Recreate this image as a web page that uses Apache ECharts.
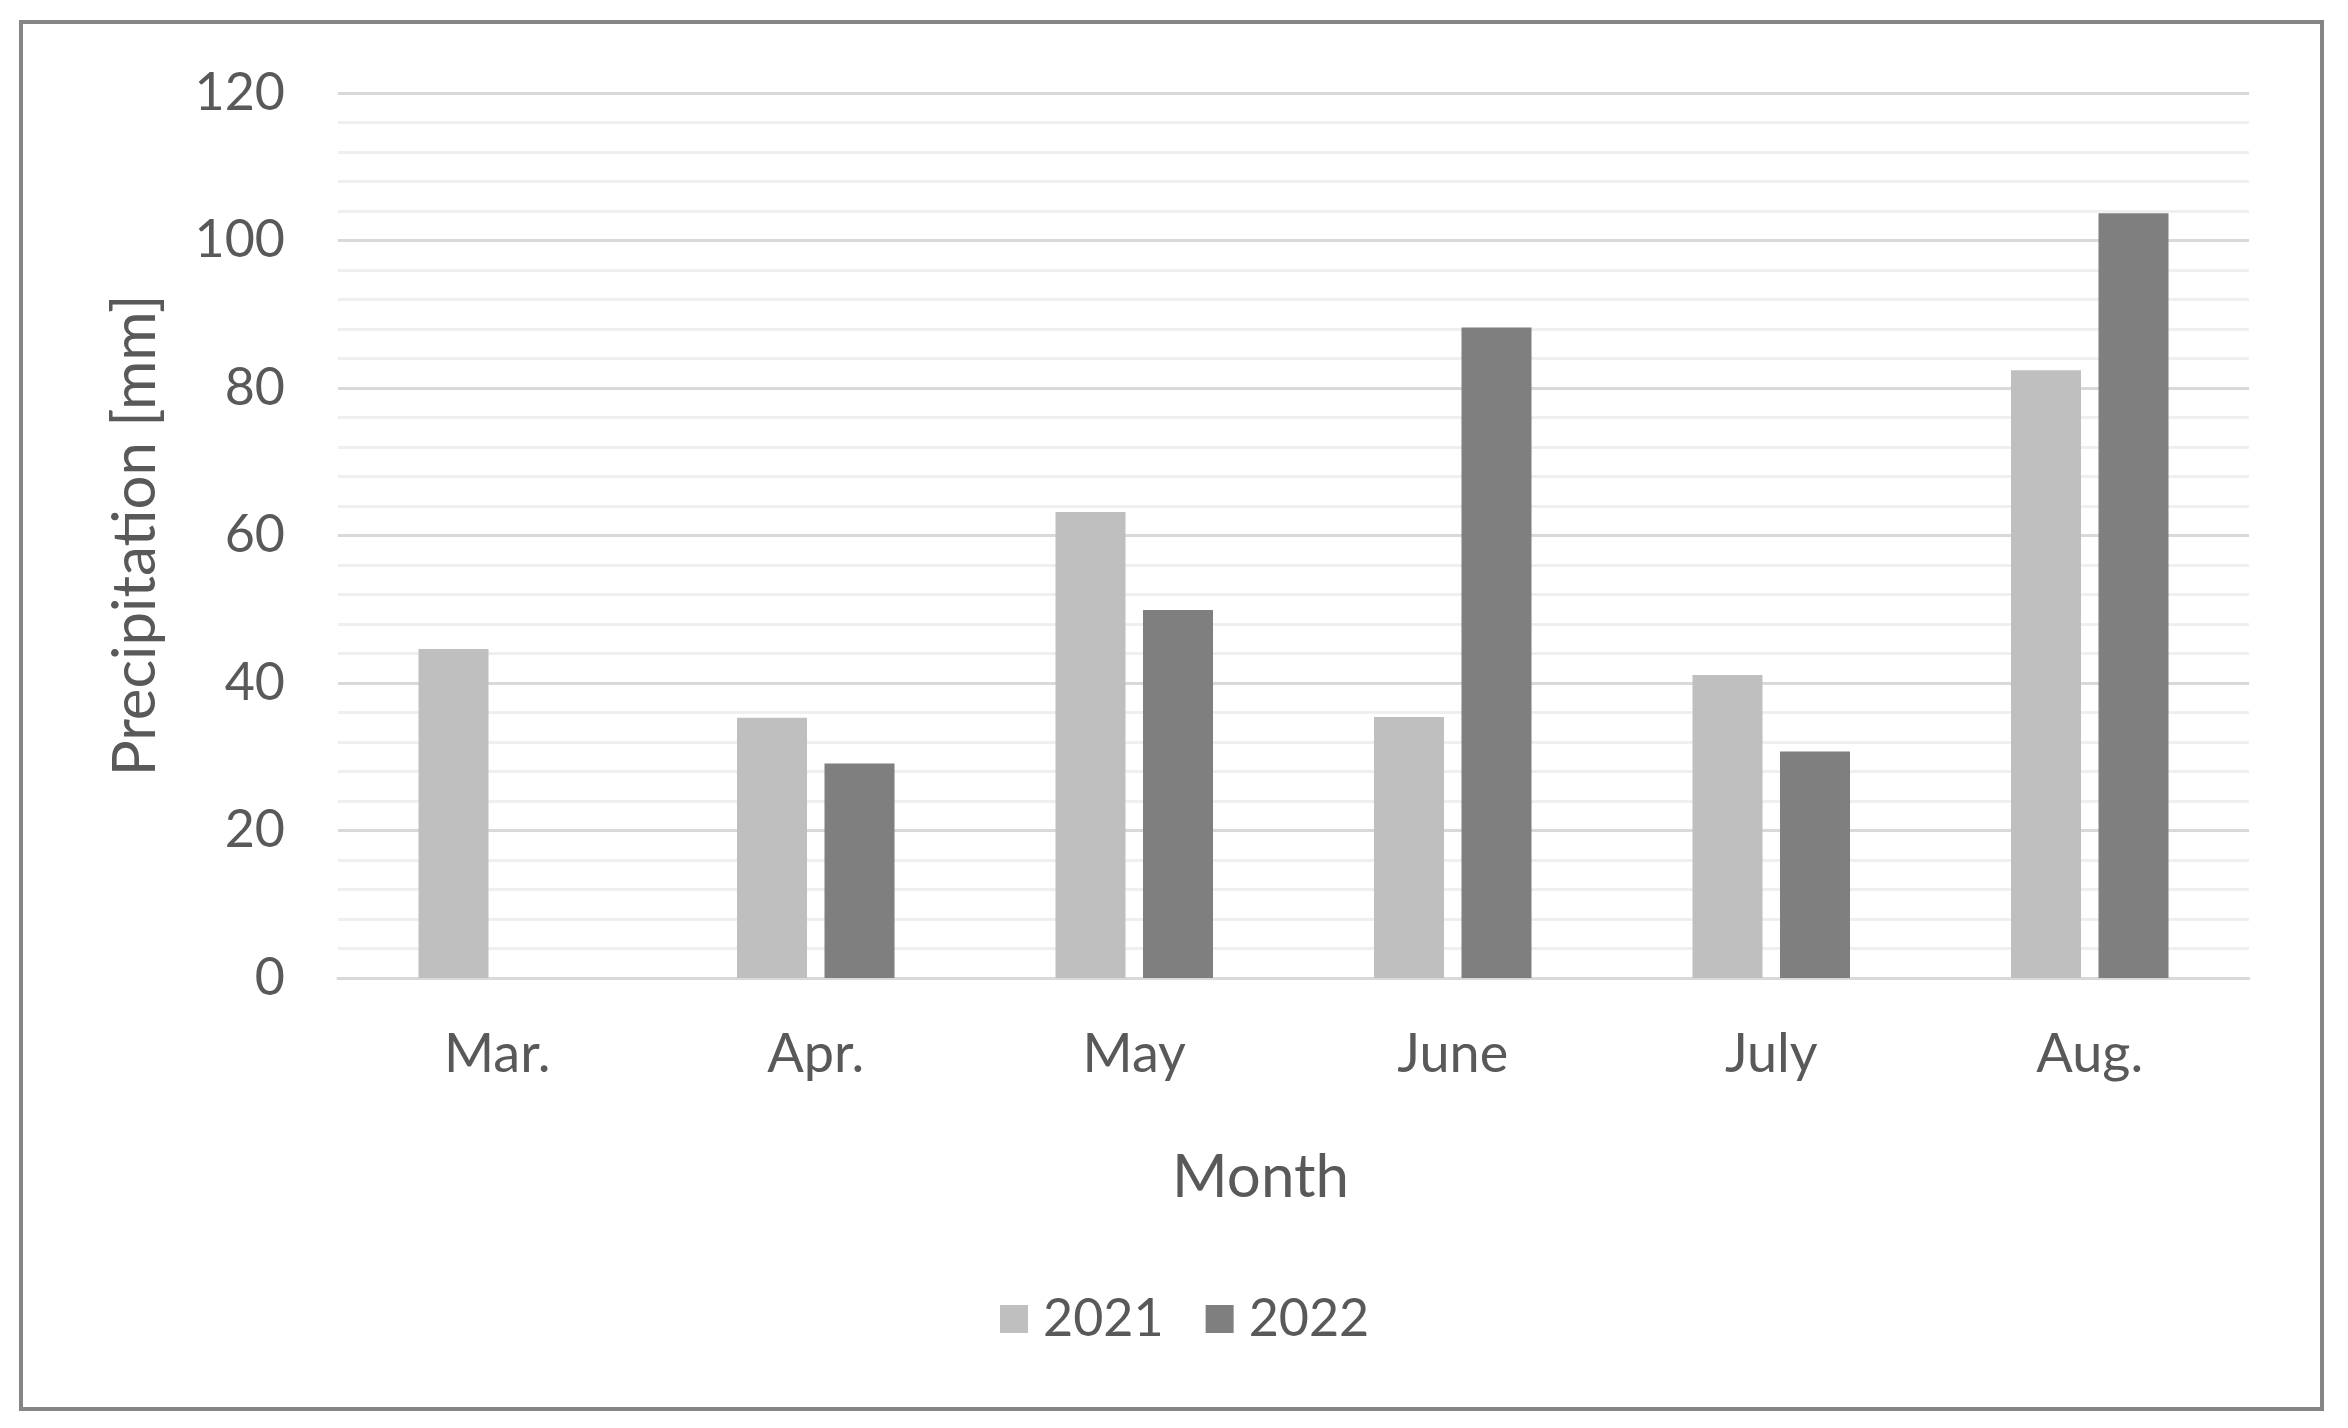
<!DOCTYPE html>
<html>
<head>
<meta charset="utf-8">
<script src="https://cdn.jsdelivr.net/npm/echarts@6/dist/echarts.min.js"></script>
<style>
html,body{margin:0;padding:0;background:#fff;}
#chart{width:2348px;height:1428px;}
</style>
</head>
<body>
<div id="chart"></div>
<script>
const months = ['Mar.', 'Apr.', 'May', 'June', 'July', 'Aug.'];
const precip2021 = [44.6, 35.3, 63.2, 35.4, 41.1, 82.4];
const precip2022 = [null, 29.1, 49.9, 88.2, 30.7, 103.7];
const seriesNames = ['2021', '2022'];
const yTicks = { min: 0, max: 120, step: 20 };

const FONT = 'Lato, "Open Sans", sans-serif';
const TXT = '#595959';

const chart = echarts.init(document.getElementById('chart'), null, { renderer: 'canvas' });
chart.setOption({
  backgroundColor: '#ffffff',
  animation: false,
  textStyle: { fontFamily: FONT, color: TXT },
  graphic: [{
    type: 'rect',
    shape: { x: 21, y: 22, width: 2301, height: 1387 },
    style: { fill: 'none', stroke: '#858585', lineWidth: 4 },
    silent: true
  }],
  grid: { left: 338, right: 99, top: 93, bottom: 450, containLabel: false },
  legend: {
    data: seriesNames,
    left: 995,
    top: 1288,
    itemWidth: 28,
    itemHeight: 28,
    itemGap: 42,
    icon: 'rect',
    textStyle: { fontFamily: FONT, fontSize: 52, color: TXT, padding: [0, 0, 0, 10] }
  },
  xAxis: {
    type: 'category',
    data: months,
    name: 'Month',
    nameLocation: 'middle',
    nameGap: 170,
    nameTextStyle: { fontFamily: FONT, fontSize: 60, color: TXT, padding: [0, 66, 0, 0] },
    axisLine: { show: true, lineStyle: { color: '#d9d9d9', width: 3 } },
    axisTick: { show: false },
    axisLabel: { fontFamily: FONT, fontSize: 54, color: TXT, margin: 50 },
    splitLine: { show: false }
  },
  yAxis: {
    type: 'value',
    min: yTicks.min,
    max: yTicks.max,
    interval: yTicks.step,
    name: 'Precipitation [mm]',
    nameLocation: 'middle',
    nameGap: 172,
    nameTextStyle: { fontFamily: FONT, fontSize: 60, color: TXT },
    axisLine: { show: false },
    axisTick: { show: false },
    axisLabel: { fontFamily: FONT, fontSize: 52, color: TXT, margin: 53 },
    splitLine: { show: true, lineStyle: { color: '#d9d9d9', width: 3 } },
    minorTick: { show: false, splitNumber: 5 },
    minorSplitLine: { show: true, lineStyle: { color: '#efefef', width: 3 } }
  },
  series: [
    {
      name: seriesNames[0],
      type: 'bar',
      data: precip2021,
      barWidth: 70,
      barGap: '25%',
      itemStyle: { color: '#bfbfbf' }
    },
    {
      name: seriesNames[1],
      type: 'bar',
      data: precip2022,
      barWidth: 70,
      barGap: '25%',
      itemStyle: { color: '#7f7f7f' }
    }
  ]
});
</script>
</body>
</html>
